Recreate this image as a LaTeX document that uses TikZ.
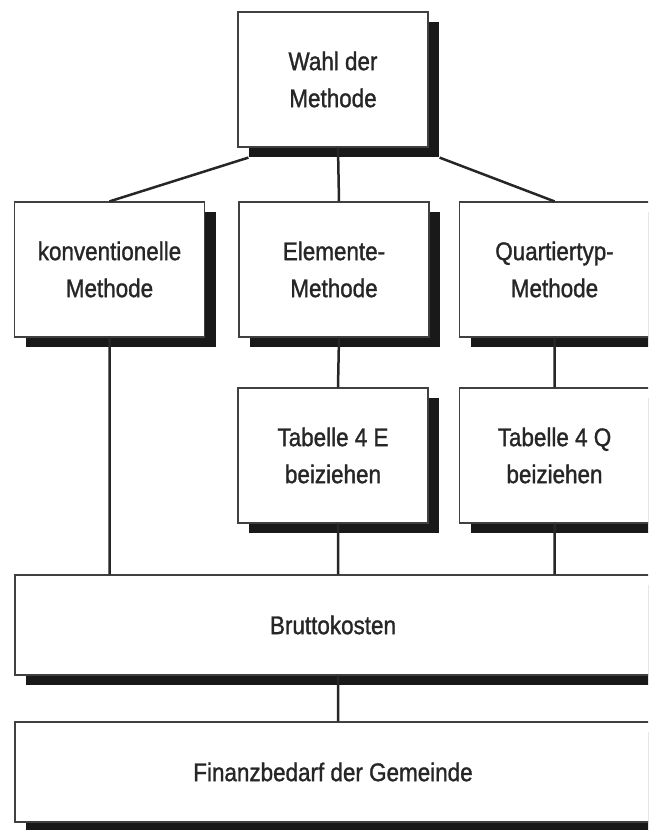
\documentclass[tikz,border=0pt]{standalone}
\usepackage{fontspec}
\setmainfont[FakeStretch=0.88, FakeBold=1.2]{Liberation Sans}
\usetikzlibrary{shadows}
\begin{document}
\begin{tikzpicture}[x=1pt, y=-1pt,
		box/.style={draw=black!75, line width=1.2pt, fill=white, text=black!85, align=center, minimum width=190pt, minimum height=135pt, inner sep=0pt, font=\fontsize{25.5}{37}\selectfont, drop shadow={shadow xshift=11pt, shadow yshift=-10pt, opacity=1, fill=black!90}},
		wide/.style={box, minimum width=636pt, minimum height=100pt},
		link/.style={line width=2.5pt, black!85}]
		\useasboundingbox (0,0) rectangle (648,830);
		\clip (0,0) rectangle (648,830);
		\node[box] at (333,79.5) (wahl) {Wahl der\\Methode};
		\node[box] at (109.5,269.5) (konv) {konventionelle\\Methode};
		\node[box] at (334,269.5) (elem) {Elemente-\\Methode};
		\node[box] at (554.5,269.5) (quart) {Quartiertyp-\\Methode};
		\node[box] at (333,455.5) (tabe) {Tabelle 4 E\\beiziehen};
		\node[box] at (554.5,455.5) (tabq) {Tabelle 4 Q\\beiziehen};
		\node[wide] at (333,625) (brutto) {Bruttokosten};
		\node[wide] at (333,772) (finanz) {Finanzbedarf der Gemeinde};
		\coordinate (wahlsw) at ([xshift=11pt, yshift=-10pt]wahl.south west);
		\coordinate (wahlse) at ([xshift=11pt, yshift=-10pt]wahl.south east);
		\draw[link] (wahlsw) -- (konv.north) ([xshift=5pt]wahl.south) -- ([xshift=5pt]elem.north) (wahlse) -- (quart.north)
		([xshift=5pt]elem.south) -- ([xshift=5pt]tabe.north) (quart.south) -- (tabq.north)
		(konv.south) -- (konv.south |- brutto.north) ([xshift=5pt]tabe.south) -- ([xshift=5pt]tabe.south |- brutto.north) (tabq.south) -- (tabq.south |- brutto.north)
		([xshift=5pt]brutto.south -| tabe.south) -- ([xshift=5pt]finanz.north -| tabe.south);
	\end{tikzpicture}
\end{document}
